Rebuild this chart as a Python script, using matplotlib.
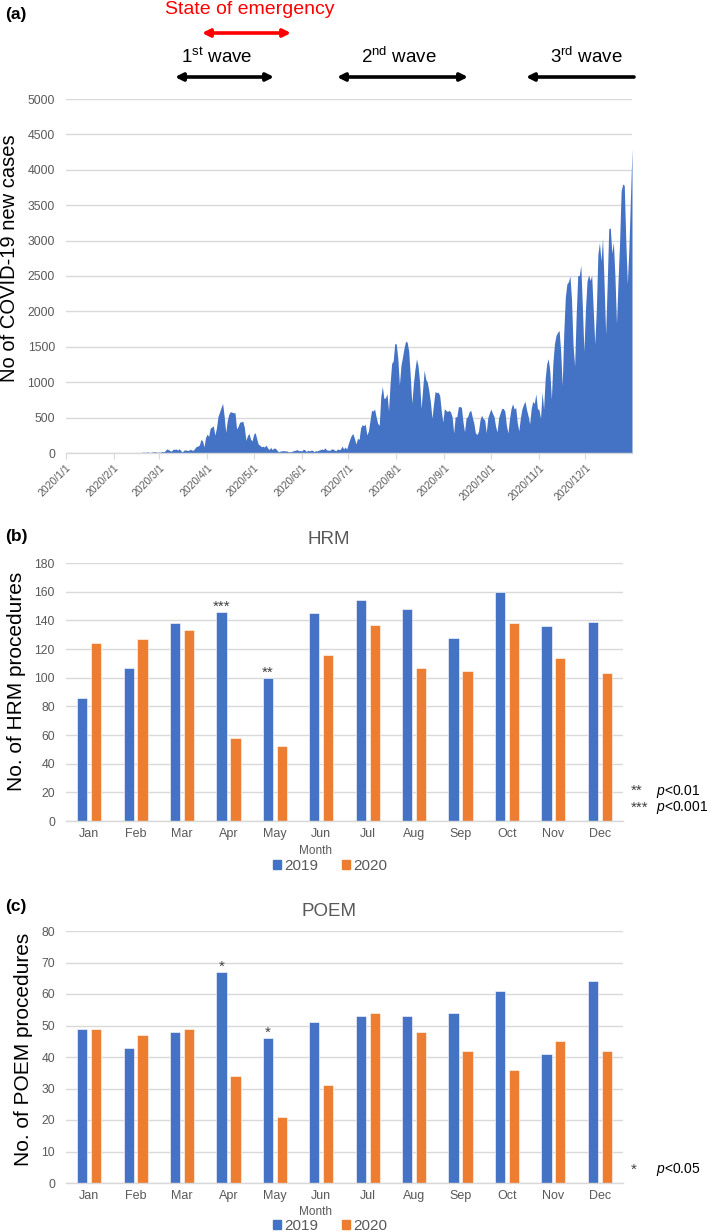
import matplotlib
matplotlib.use("Agg")
import matplotlib.pyplot as plt
import numpy as np
from matplotlib.patches import Patch, FancyArrowPatch

plt.rcParams['font.family'] = ['Liberation Sans', 'DejaVu Sans']
plt.rcParams['mathtext.fontset'] = 'custom'
plt.rcParams['mathtext.rm'] = 'Liberation Sans'
plt.rcParams['mathtext.it'] = 'Liberation Sans:italic'

# ---------------- data ----------------
cases_jan = [0,0,0,0,0,0,0,0,0,0,0,0,0,0,0,1,0,0,0,0,0,0,1,1,1,0,0,2,1,2,3]
cases_feb = [2,1,1,2,3,1,2,2,1,1,2,1,1,4,8,5,6,7,9,12,10,13,14,6,12,15,18,15,9]
cases_mar = [14,12,24,15,33,59,47,35,26,54,52,56,41,61,34,15,40,44,39,35,53,43,38,65,93,97,112,190,173,87,220]
cases_apr = [266,235,351,368,383,252,351,515,576,644,700,520,290,460,548,584,576,568,568,340,378,437,440,450,363,180,243,278,197,170]
cases_may = [263,288,200,123,110,88,96,84,112,72,49,78,48,70,67,42,15,26,30,34,29,32,22,16,21,25,37,38,49,32,37]
cases_jun = [28,52,46,20,41,29,40,38,18,34,29,41,47,56,48,72,44,41,35,56,57,43,31,57,48,54,99,57,85,55]
cases_jul = [127,195,250,274,207,128,207,191,355,400,385,406,256,309,450,600,594,620,509,419,391,795,940,769,781,839,597,981,1264,1301,1550]
cases_aug = [1536,1331,964,1236,1354,1485,1580,1565,1442,1090,700,969,1177,1330,1233,1007,630,904,1170,1041,1000,875,721,491,689,870,851,860,810,599,436]
cases_sep = [628,600,588,601,580,512,282,514,509,649,659,642,439,298,493,514,584,603,507,420,284,261,306,469,534,486,469,287,497,566]
cases_oct = [622,561,517,379,298,497,567,630,629,589,391,282,485,626,696,621,642,432,311,493,621,685,730,611,524,411,630,729,700,835,628]
cases_nov = [612,491,860,622,1048,1260,1332,1156,761,1279,1544,1660,1705,1730,1439,951,1699,2201,2388,2418,2500,2168,1518,1228,1944,2504,2508,2650,2060,1435]
cases_dec = [2033,2426,2515,2438,2508,2026,1540,2024,2807,2972,2716,3030,2394,1677,2380,3168,3180,2824,2977,2491,1830,2424,2977,3700,3800,3780,3000,2390,2900,3600,4300]

month_starts = [0,31,60,91,121,152,182,213,244,274,305,335]
date_labels = ["2020/1/1","2020/2/1","2020/3/1","2020/4/1","2020/5/1","2020/6/1",
               "2020/7/1","2020/8/1","2020/9/1","2020/10/1","2020/11/1","2020/12/1"]

months = ["Jan","Feb","Mar","Apr","May","Jun","Jul","Aug","Sep","Oct","Nov","Dec"]
hrm_2019 = [86,107,138,146,100,145,154,148,128,160,136,139]
hrm_2020 = [124,127,133,58,52,116,137,107,105,138,114,103]
poem_2019 = [49,43,48,67,46,51,53,53,54,61,41,64]
poem_2020 = [49,47,49,34,21,31,54,48,42,36,45,42]
hrm_sig = {"Apr": "***", "May": "**"}
poem_sig = {"Apr": "*", "May": "*"}

# ---------------- style ----------------
BLUE = "#4472C4"
ORANGE = "#ED7D31"
GRID = "#D9D9D9"
TICK = "#595959"
W, H = 709, 1232

fig = plt.figure(figsize=(W/100, H/100), dpi=100)

def fr(x0, y0, x1, y1):
    return [x0/W, 1 - y1/H, (x1-x0)/W, (y1-y0)/H]

def fx(x):
    return x / W

def fy(y):
    return 1 - y / H

def style_axes(ax):
    for s in ["top", "right", "left"]:
        ax.spines[s].set_visible(False)
    ax.spines["bottom"].set_color(GRID)
    ax.spines["bottom"].set_linewidth(1.0)
    ax.grid(axis="y", color=GRID, linewidth=1.0)
    ax.set_axisbelow(True)
    ax.tick_params(axis="y", length=0, colors=TICK, labelsize=8.8, pad=8)

# ---------------- panel (a) ----------------
cases = np.array(cases_jan + cases_feb + cases_mar + cases_apr + cases_may + cases_jun +
                 cases_jul + cases_aug + cases_sep + cases_oct + cases_nov + cases_dec)
days = np.arange(len(cases))
axA = fig.add_axes(fr(66, 99, 632, 453))
style_axes(axA)
axA.fill_between(days, cases, 0, color=BLUE, linewidth=0)
axA.set_xlim(0, len(cases) - 1)
axA.set_ylim(0, 5000)
axA.set_yticks(np.arange(0, 5001, 500))
axA.set_xticks(month_starts)
axA.set_xticklabels(date_labels, rotation=45, ha="right", rotation_mode="anchor",
                    fontsize=7.5, color=TICK)
axA.tick_params(axis="x", length=4, color=GRID, pad=3)
axA.set_ylabel("No of COVID-19 new cases", fontsize=14.5, color="black", labelpad=6)
axA.yaxis.label.set_y(0.55)

fig.text(fx(5), fy(15), "(a)", fontsize=12.5, fontweight="bold", va="center", ha="left")
fig.text(fx(250), fy(10), "State of emergency", fontsize=14, color="#FF0000",
         va="center", ha="center")

def farrow(x0, x1, y, color, style):
    fig.add_artist(FancyArrowPatch(
        (fx(x0), fy(y)), (fx(x1), fy(y)), transform=fig.transFigure,
        arrowstyle=style, color=color, linewidth=2.6, mutation_scale=11,
        shrinkA=0, shrinkB=0))

farrow(202, 291, 33, "#FF0000", "<|-|>")
farrow(175, 274, 77, "black", "<|-|>")
farrow(337, 468, 77, "black", "<|-|>")
farrow(526, 634, 77, "black", "<|-")
fig.text(fx(217), fy(57), r"1$^{\mathrm{st}}$ wave", fontsize=13.5, ha="center", va="center")
fig.text(fx(399), fy(57), r"2$^{\mathrm{nd}}$ wave", fontsize=13.5, ha="center", va="center")
fig.text(fx(586), fy(57), r"3$^{\mathrm{rd}}$ wave", fontsize=13.5, ha="center", va="center")

# ---------------- bar panels ----------------
def bar_panel(rect, v19, v20, ymax, step, title, ylabel, label_y, sig, letter, letter_y,
              title_y, month_y, legend_y, note_lines, note_y):
    ax = fig.add_axes(fr(*rect))
    style_axes(ax)
    x = np.arange(len(months))
    bw = 0.22
    off = 0.15
    ax.bar(x - off, v19, bw, color=BLUE, edgecolor="white", linewidth=0.4, label="2019")
    ax.bar(x + off, v20, bw, color=ORANGE, edgecolor="white", linewidth=0.4, label="2020")
    ax.set_xlim(-0.5, len(months) - 0.5)
    ax.set_ylim(0, ymax)
    ax.set_yticks(np.arange(0, ymax + 1, step))
    ax.set_xticks(x)
    ax.set_xticklabels(months, fontsize=9, color=TICK)
    ax.tick_params(axis="x", length=0, pad=5)
    ax.set_ylabel(ylabel, fontsize=15, color="black", labelpad=6)
    ax.yaxis.label.set_y(label_y)
    for m, s in sig.items():
        i = months.index(m)
        ax.text(i - off, v19[i] + ymax * 0.004, s, ha="center", va="baseline",
                fontsize=11, color="#404040")
    fig.text(fx(5), fy(letter_y), letter, fontsize=12.5, fontweight="bold", va="center", ha="left")
    fig.text(fx(329), fy(title_y), title, fontsize=13.5, color=TICK, va="center", ha="center")
    fig.text(fx(316), fy(month_y), "Month", fontsize=8.5, color=TICK, va="center", ha="center")
    handles = [Patch(color=BLUE, label="2019"), Patch(color=ORANGE, label="2020")]
    fig.legend(handles=handles, loc="center", bbox_to_anchor=(fx(330), fy(legend_y)),
               ncol=2, frameon=False, fontsize=11, handlelength=0.5, handleheight=0.5,
               handletextpad=0.2, columnspacing=1.6, labelcolor=TICK,
               borderpad=0, borderaxespad=0)
    for (stars, ptxt), ny in zip(note_lines, note_y):
        fig.text(fx(631), fy(ny), stars, fontsize=11, color="#404040", va="center", ha="left")
        fig.text(fx(656), fy(ny), ptxt, fontsize=10, color="black", va="center", ha="left")
    return ax

bar_panel((66, 563, 623, 821), hrm_2019, hrm_2020, 180, 20, "HRM",
          "No. of HRM procedures", 0.54, hrm_sig, "(b)", 537, 540, 851, 866,
          [("**", r"$\it{p}$<0.01"), ("***", r"$\it{p}$<0.001")], [791, 808])

bar_panel((66, 931, 623, 1183), poem_2019, poem_2020, 80, 10, "POEM",
          "No. of POEM procedures", 0.53, poem_sig, "(c)", 907, 912, 1212, 1226,
          [("*", r"$\it{p}$<0.05")], [1170])

fig.savefig("out.png", dpi=100)
